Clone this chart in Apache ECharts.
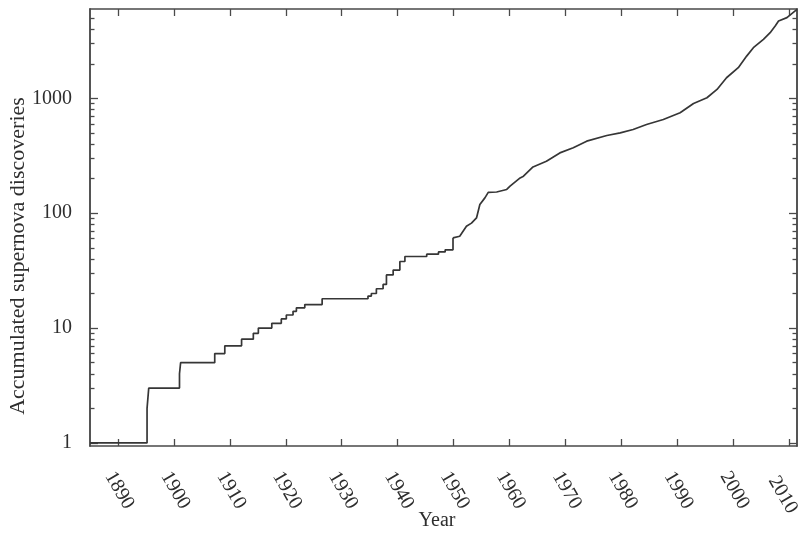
<!DOCTYPE html>
<html>
<head>
<meta charset="utf-8">
<script src="https://cdn.jsdelivr.net/npm/echarts@6/dist/echarts.min.js"></script>
<style>html,body{margin:0;padding:0;background:#fff}#c{width:799px;height:535px}</style>
</head>
<body>
<div id="c"></div>
<script>
// Early discoveries (step-wise cumulative counts)
const earlyYears = [1885, 1895.2, 1895.5, 1901.0, 1901.2, 1907.3, 1909.1, 1912.1, 1914.2, 1915.1, 1917.5, 1919.2, 1920.1, 1921.3, 1921.9, 1923.4, 1926.5, 1934.7, 1935.3, 1936.2, 1937.4, 1938.0, 1939.2, 1940.4, 1941.3, 1945.2, 1947.3, 1948.5, 1949.9];
const earlyCounts = [1, 2, 3, 4, 5, 6, 7, 8, 9, 10, 11, 12, 13, 14, 15, 16, 18, 19, 20, 22, 24, 29, 32, 38, 42, 44, 46, 48, 61];
// Later discoveries (dense, drawn as a continuous line)
const lateYears = [1949.9, 1951.1, 1952.3, 1953.2, 1954.1, 1954.7, 1955.6, 1956.2, 1957.7, 1959.5, 1960.1, 1961.9, 1962.5, 1964.2, 1966.6, 1969.0, 1971.4, 1973.8, 1977.4, 1979.8, 1982.1, 1984.5, 1987.5, 1990.5, 1992.9, 1995.3, 1997.1, 1998.8, 2000.9, 2002.4, 2003.6, 2005.4, 2006.6, 2007.5, 2008.1, 2009.6, 2011.4];
const lateCounts = [61, 63, 77, 82, 91, 119, 136, 152, 153, 161, 172, 203, 210, 253, 283, 335, 371, 424, 475, 501, 536, 592, 655, 749, 903, 1012, 1196, 1512, 1849, 2333, 2761, 3264, 3734, 4266, 4713, 5044, 5958];

const xTicks = [1890, 1900, 1910, 1920, 1930, 1940, 1950, 1960, 1970, 1980, 1990, 2000, 2010];
const yMajorTicks = [1, 10, 100, 1000];
const yMinorTicks = [2,3,4,5,6,7,8,9,20,30,40,50,60,70,80,90,200,300,400,500,600,700,800,900,2000,3000,4000,5000];

const xTitle = 'Year';
const yTitle = 'Accumulated supernova discoveries';

const FONT = '"Liberation Serif", "DejaVu Serif", serif';
const TXT = '#2e2e2e';
const AX = '#4a4a4a';
const X_MIN = 1885, X_MAX = 2011.4, Y_MIN = 0.94, Y_MAX = 6000;

const chart = echarts.init(document.getElementById('c'), null, {renderer: 'canvas'});

const axisLine = {show: true, lineStyle: {color: AX, width: 1.5}};
const fmt = v => String(Math.round(v));
const lastX = xTicks[xTicks.length - 1];
const xFmt = v => Math.round(v) === lastX ? '{e|' + Math.round(v) + '}' : String(Math.round(v));

function xAx(pos, labels) {
  return {
    type: 'value', position: pos, min: X_MIN, max: X_MAX,
    axisLine: axisLine,
    splitLine: {show: false},
    axisTick: {show: true, inside: true, length: 7, customValues: xTicks, lineStyle: {color: AX, width: 1.3}},
    axisLabel: labels ? {
      show: true, customValues: xTicks, rotate: -60, margin: 22,
      align: 'left', verticalAlign: 'top', hideOverlap: false,
      fontFamily: FONT, fontSize: 20, color: TXT, formatter: xFmt,
      rich: {e: {padding: [9, 0, 0, 0], fontFamily: FONT, fontSize: 20, color: TXT}}
    } : {show: false}
  };
}
function yAx(pos, ticks, len, labels) {
  return {
    type: 'log', logBase: 10, position: pos, min: Y_MIN, max: Y_MAX,
    axisLine: axisLine,
    splitLine: {show: false},
    minorTick: {show: false},
    axisTick: {show: true, inside: true, length: len, customValues: ticks, lineStyle: {color: AX, width: 1.3}},
    axisLabel: labels ? {
      show: true, customValues: yMajorTicks, margin: 18,
      fontFamily: FONT, fontSize: 20, color: TXT, formatter: fmt
    } : {show: false}
  };
}

chart.setOption({
  animation: false,
  backgroundColor: '#fff',
  grid: {left: 90, right: 2, top: 9, bottom: 89, containLabel: false, outerBoundsMode: 'none'},
  xAxis: [xAx('bottom', true), xAx('top', false)],
  yAxis: [
    yAx('left', yMajorTicks, 8, true),
    yAx('left', yMinorTicks, 4.5, false),
    yAx('right', yMajorTicks, 8, false),
    yAx('right', yMinorTicks, 4.5, false)
  ],
  graphic: [
    {type: 'text', x: 18, y: 256, rotation: Math.PI / 2,
     style: {text: yTitle, x: 0, y: 0, textAlign: 'center', textVerticalAlign: 'middle', align: 'center', verticalAlign: 'middle',
             font: '22px ' + FONT, fill: TXT}},
    {type: 'text', x: 437, y: 521,
     style: {text: xTitle, x: 0, y: 0, textAlign: 'center', textVerticalAlign: 'middle', align: 'center', verticalAlign: 'middle',
             font: '20px ' + FONT, fill: TXT}}
  ],
  series: [
    {type: 'line', xAxisIndex: 0, yAxisIndex: 0, step: 'end', showSymbol: false, symbol: 'none',
     data: earlyYears.map((y, i) => [y, earlyCounts[i]]),
     lineStyle: {color: '#363636', width: 1.7}},
    {type: 'line', xAxisIndex: 0, yAxisIndex: 0, showSymbol: false, symbol: 'none',
     data: lateYears.map((y, i) => [y, lateCounts[i]]),
     lineStyle: {color: '#363636', width: 1.7}}
  ]
});
</script>
</body>
</html>
